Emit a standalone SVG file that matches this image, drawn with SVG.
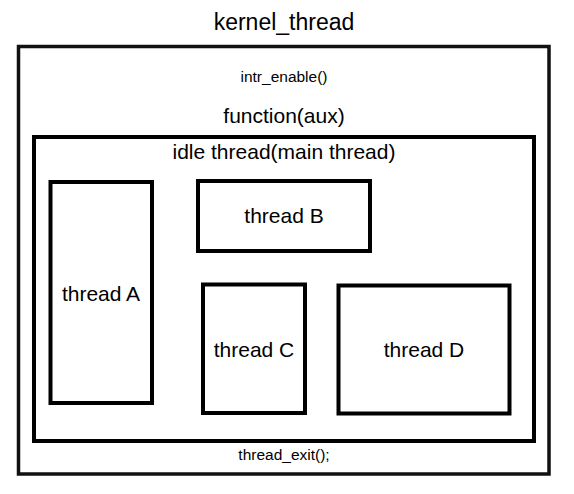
<svg xmlns="http://www.w3.org/2000/svg" width="574" height="494" viewBox="0 0 574 494">
<style>
  text { font-family: "Liberation Sans", Arial, sans-serif; fill: #000; text-anchor: middle; }
  .big { font-size: 23px; }
  .mid { font-size: 21px; }
  .small { font-size: 15.5px; }
  .box { fill: #fff; stroke: #000; stroke-width: 4; }
  .outer { fill: #fff; stroke: #111; stroke-width: 3.5; }
</style>
<rect width="574" height="494" fill="#fff"/>
<g id="kernel_thread">
  <text class="big" x="284" y="30">kernel_thread</text>
  <rect class="outer" x="18.5" y="46.5" width="530.5" height="427.5"/>
  <text class="small" x="284" y="82">intr_enable()</text>
  <text class="mid" x="284" y="123">function(aux)</text>
  <text class="small" x="284" y="460">thread_exit();</text>
</g>
<g id="idle_thread">
  <rect class="box" x="34" y="137" width="500" height="304" stroke-width="5"/>
  <text class="mid" x="284" y="159">idle thread(main thread)</text>
</g>
<g id="thread_A">
  <rect class="box" x="50.5" y="182" width="101.5" height="221"/>
  <text class="mid" x="101" y="301">thread A</text>
</g>
<g id="thread_B">
  <rect class="box" x="198" y="181" width="172" height="70"/>
  <text class="mid" x="284" y="223">thread B</text>
</g>
<g id="thread_C">
  <rect class="box" x="203" y="284.5" width="102" height="128.5"/>
  <text class="mid" x="254" y="357">thread C</text>
</g>
<g id="thread_D">
  <rect class="box" x="338.5" y="285.5" width="171" height="128"/>
  <text class="mid" x="424" y="357">thread D</text>
</g>
<g id="connectors"></g>
</svg>
